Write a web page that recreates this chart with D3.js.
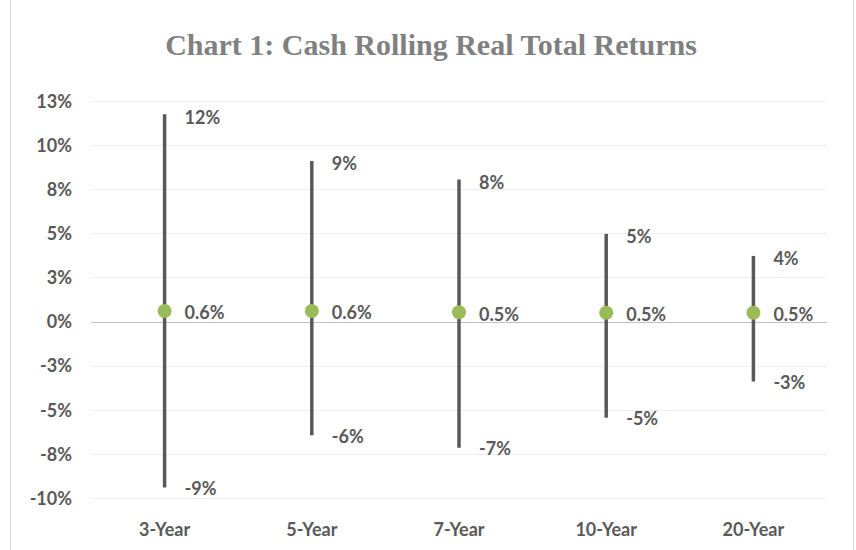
<!DOCTYPE html>
<html lang="en">
<head>
<meta charset="UTF-8" />
<title>Chart 1: Cash Rolling Real Total Returns</title>
<script src="https://d3js.org/d3.v7.min.js"></script>
<style>
  body { margin: 0; background: #fff; }
  .tick text, .lbl, .cat { font-family: Lato, "Open Sans", sans-serif; font-weight: bold; fill: #595959; font-size: 18px; }
  .title { font-family: "Liberation Serif", serif; font-weight: bold; fill: #808080; font-size: 30px; }
</style>
</head>
<body>
<script>
// data (percent)
var periods = ["3-Year", "5-Year", "7-Year", "10-Year", "20-Year"];
var highs = [11.75, 9.1, 8.05, 4.97, 3.72];
var lows = [-9.4, -6.45, -7.15, -5.45, -3.4];
var means = [0.6, 0.6, 0.53, 0.5, 0.5];
var meanLabels = ["0.6%", "0.6%", "0.5%", "0.5%", "0.5%"];
var yTicks = [-10, -7.5, -5, -2.5, 0, 2.5, 5, 7.5, 10, 12.5];

var width = 856, height = 550;
var margin = {left: 91, right: 29, top: 101, bottom: 52};

var svg = d3.select("body").append("svg").attr("width", width).attr("height", height);

// outer frame
svg.append("rect").attr("x", 10.5).attr("y", -2).attr("width", 843).attr("height", height + 4)
  .attr("fill", "none").attr("stroke", "#d9d9d9");

var x = d3.scaleBand().domain(periods).range([margin.left, width - margin.right]);
var y = d3.scaleLinear().domain([-10, 12.5]).range([height - margin.bottom, margin.top]);

svg.append("text").attr("class", "title").attr("x", 431).attr("y", 55)
  .attr("text-anchor", "middle").text("Chart 1: Cash Rolling Real Total Returns");

// gridlines
svg.append("g").selectAll("line").data(yTicks.filter(function(d){ return d !== 0; })).enter().append("line")
  .attr("x1", margin.left).attr("x2", width - margin.right)
  .attr("y1", function(d){ return Math.round(y(d)) + 0.5; })
  .attr("y2", function(d){ return Math.round(y(d)) + 0.5; })
  .attr("stroke", "#efefef").attr("stroke-width", 1);

// y axis labels (Excel rounds to whole percent, plain hyphen)
var pct = function(v){ var r = Math.sign(v) * Math.round(Math.abs(v)); return (r < 0 ? "-" : "") + Math.abs(r) + "%"; };
var yAxis = d3.axisLeft(y).tickValues(yTicks).tickSize(0).tickPadding(0).tickFormat(pct);
var ga = svg.append("g").attr("transform", "translate(72,0)").call(yAxis);
ga.select(".domain").remove();
ga.selectAll("text").attr("dy", "0.35em");

// zero line
svg.append("line").attr("x1", margin.left).attr("x2", width - margin.right)
  .attr("y1", Math.round(y(0)) + 0.5).attr("y2", Math.round(y(0)) + 0.5)
  .attr("stroke", "#bfbfbf").attr("stroke-width", 1.2);

// category labels
svg.append("g").selectAll("text").data(periods).enter().append("text")
  .attr("class", "cat").attr("text-anchor", "middle")
  .attr("x", function(d){ return x(d) + x.bandwidth() / 2; })
  .attr("y", 536).text(function(d){ return d; });

var cx = function(i){ return x(periods[i]) + x.bandwidth() / 2; };
var idx = d3.range(periods.length);

// high-low lines
svg.append("g").selectAll("line").data(idx).enter().append("line")
  .attr("x1", cx).attr("x2", cx)
  .attr("y1", function(i){ return y(highs[i]); })
  .attr("y2", function(i){ return y(lows[i]); })
  .attr("stroke", "#595959").attr("stroke-width", 3.5);

// mean dots
svg.append("g").selectAll("circle").data(idx).enter().append("circle")
  .attr("cx", cx).attr("cy", function(i){ return y(means[i]); })
  .attr("r", 7).attr("fill", "#9bbb59");

// labels
var lg = svg.append("g");
idx.forEach(function(i){
  lg.append("text").attr("class", "lbl").attr("x", cx(i) + 20).attr("y", y(highs[i]) + 3)
    .attr("dy", "0.35em").text(pct(highs[i]));
  lg.append("text").attr("class", "lbl").attr("x", cx(i) + 20).attr("y", y(means[i]) + 2)
    .attr("dy", "0.35em").text(meanLabels[i]);
  lg.append("text").attr("class", "lbl").attr("x", cx(i) + 20).attr("y", y(lows[i]) + 1)
    .attr("dy", "0.35em").text(pct(lows[i]));
});
</script>
</body>
</html>
